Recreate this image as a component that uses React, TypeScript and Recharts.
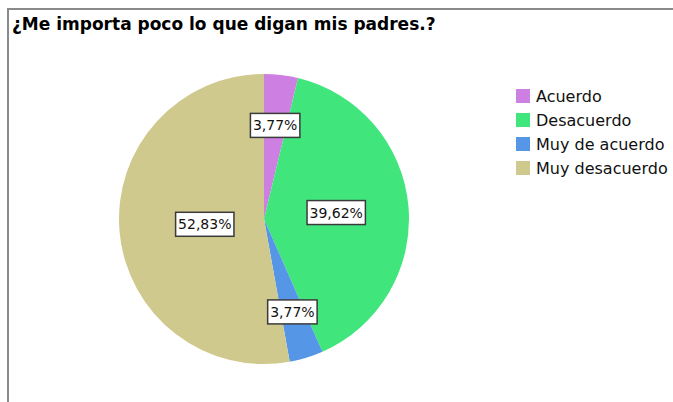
import { Cell, Legend, Pie, PieChart } from "recharts";

const CATEGORIES = ["Acuerdo", "Desacuerdo", "Muy de acuerdo", "Muy desacuerdo"];
const PERCENTS = [3.77, 39.62, 3.77, 52.83];
const COLORS = ["#CE80E2", "#40E67C", "#5596E6", "#D0C98E"];
// how far from the centre each label sits, as a share of the radius
const LABEL_RADIUS = [0.65, 0.5, 0.67, 0.41];

const FONT = "DejaVu Sans, Verdana, sans-serif";

const data = CATEGORIES.map((name, i) => ({ name, value: PERCENTS[i] }));

const RAD = Math.PI / 180;

function fmt(v: number) {
  return v.toFixed(2).replace(".", ",") + "%";
}

function textWidth(s: string) {
  let w = 0;
  for (const ch of s) {
    if (ch === "%") w += 13.3;
    else if (ch === ",") w += 4.45;
    else w += 8.9;
  }
  return w;
}

function SliceLabel(props: any) {
  const { cx, cy, midAngle, outerRadius, index, value } = props;
  const r = outerRadius * LABEL_RADIUS[index];
  const x = cx + r * Math.cos(-midAngle * RAD);
  const y = cy + r * Math.sin(-midAngle * RAD);
  const txt = fmt(value);
  const w = textWidth(txt) + 5;
  const h = 24;
  return (
    <g>
      <rect
        x={x - w / 2}
        y={y - h / 2}
        width={w}
        height={h}
        fill="#ffffff"
        stroke="#3a3a3a"
        strokeWidth={1.5}
      />
      <text x={x} y={y + 5} textAnchor="middle" fontFamily={FONT} fontSize={14} fill="#111">
        {txt}
      </text>
    </g>
  );
}

function LegendBox() {
  return (
    <div style={{ fontFamily: FONT, fontSize: 16, color: "#111" }}>
      {CATEGORIES.map((c, i) => (
        <div key={c} style={{ display: "flex", alignItems: "center", height: 24 }}>
          <span
            style={{
              display: "inline-block",
              width: 14,
              height: 14,
              background: COLORS[i],
              marginRight: 6,
            }}
          />
          <span>{c}</span>
        </div>
      ))}
    </div>
  );
}

export default function App() {
  return (
    <div style={{ position: "absolute", left: 0, top: 0, width: 673, height: 402, background: "#fff" }}>
      <div style={{ position: "absolute", left: 7, top: 8, right: 0, height: 1.5, background: "#8a8a8a" }} />
      <div style={{ position: "absolute", left: 7, top: 8, bottom: 0, width: 1.5, background: "#8a8a8a" }} />
      <div
        style={{
          position: "absolute",
          left: 12,
          top: 14,
          fontFamily: FONT,
          fontWeight: "bold",
          fontSize: 17,
          color: "#000",
          whiteSpace: "nowrap",
        }}
      >
        ¿Me importa poco lo que digan mis padres.?
      </div>
      <PieChart
        width={673}
        height={402}
        margin={{ top: 0, right: 0, bottom: 0, left: 0 }}
        style={{ position: "absolute", left: 0, top: 0 }}
      >
        <Pie
          data={data}
          dataKey="value"
          nameKey="name"
          cx={264}
          cy={219}
          outerRadius={145}
          startAngle={90}
          endAngle={-270}
          stroke="none"
          label={SliceLabel}
          labelLine={false}
          isAnimationActive={false}
        >
          {data.map((d, i) => (
            <Cell key={d.name} fill={COLORS[i]} />
          ))}
        </Pie>
        <Legend
          content={<LegendBox />}
          layout="vertical"
          wrapperStyle={{ position: "absolute", left: 516, top: 84, width: 160 }}
        />
      </PieChart>
    </div>
  );
}
